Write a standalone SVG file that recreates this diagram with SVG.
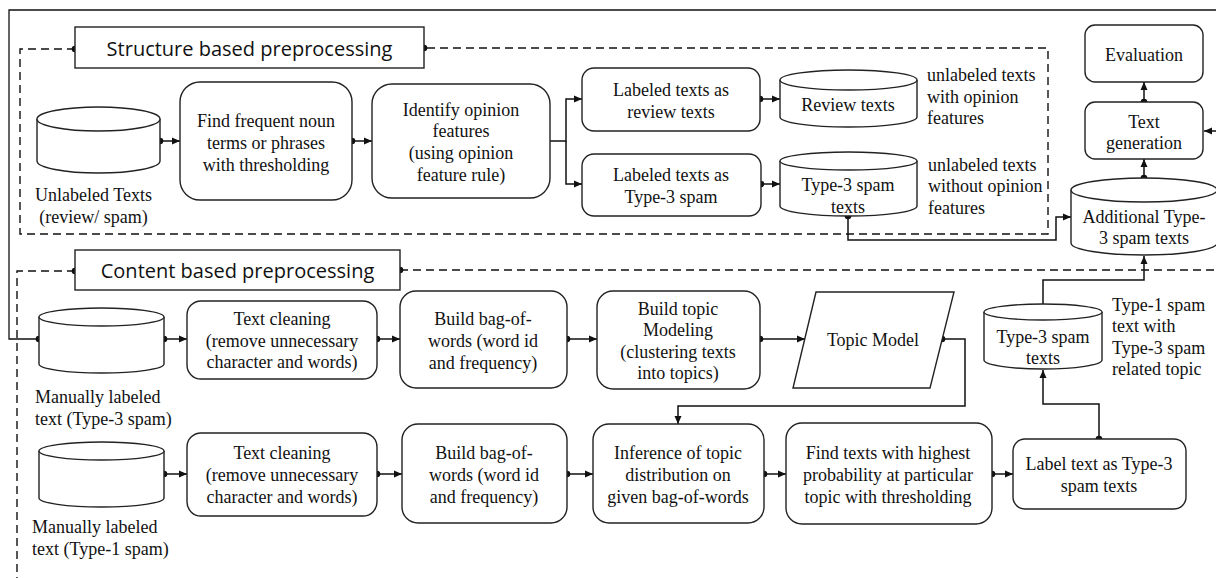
<svg xmlns="http://www.w3.org/2000/svg" width="1216" height="578" viewBox="0 0 1216 578">
<defs>
<marker id="ar" markerUnits="userSpaceOnUse" markerWidth="9" markerHeight="8" refX="8" refY="4" orient="auto"><path d="M0,0.5 L8,4 L0,7.5 z" fill="#111"/></marker>
<style>
.bx{fill:#fff;stroke:#222;stroke-width:1.4}
.t{font-family:'Liberation Serif','DejaVu Serif',serif;font-size:18px;fill:#111;text-anchor:middle}
.tl{font-family:'Liberation Serif','DejaVu Serif',serif;font-size:18px;fill:#111;text-anchor:start}
.h{font-family:'Open Sans','Noto Sans',sans-serif;font-size:20px;fill:#111;text-anchor:middle}
.c{fill:none;stroke:#111;stroke-width:1.5}
.d{fill:none;stroke:#111;stroke-width:1.4;stroke-dasharray:8 5}
.dot{fill:#111}
</style>
</defs>
<rect width="1216" height="578" fill="#fff"/>

<g id="regions">
<path class="d" d="M75,49 H20 V234 H1048 V48 H424"/>
<path class="d" d="M75,271 H17 V578"/>
<path class="d" d="M400,270 H1216"/>
</g>

<g id="connectors">
<path class="c" d="M39,339 H9 V10 H1216" style="stroke-width:1.3"/>
<path class="c" d="M1216,131 H1204" marker-end="url(#ar)"/>
<path class="c" d="M160,141 H180" marker-end="url(#ar)"/>
<path class="c" d="M352,141 H372" marker-end="url(#ar)"/>
<path class="c" d="M550,141 H566 V99 H582" marker-end="url(#ar)"/>
<path class="c" d="M566,141 V184 H582" marker-end="url(#ar)"/>
<path class="c" d="M760,99 H780" marker-end="url(#ar)"/>
<path class="c" d="M761,184 H780" marker-end="url(#ar)"/>
<path class="c" d="M848,216 V240 H1056 V217 H1071" marker-end="url(#ar)"/>
<path class="c" d="M1144,178 V159" marker-end="url(#ar)"/>
<path class="c" d="M1144,102 V82" marker-end="url(#ar)"/>
<path class="c" d="M164,339 H187" marker-end="url(#ar)"/>
<path class="c" d="M377,339 H400" marker-end="url(#ar)"/>
<path class="c" d="M567,339 H597" marker-end="url(#ar)"/>
<path class="c" d="M760,339 H805" marker-end="url(#ar)"/>
<path class="c" d="M942,339 H965 V406 H678 V424" marker-end="url(#ar)"/>
<path class="c" d="M164,474 H187" marker-end="url(#ar)"/>
<path class="c" d="M377,474 H402" marker-end="url(#ar)"/>
<path class="c" d="M567,474 H593" marker-end="url(#ar)"/>
<path class="c" d="M764,474 H786" marker-end="url(#ar)"/>
<path class="c" d="M992,474 H1013" marker-end="url(#ar)"/>
<path class="c" d="M1099,439 V404 H1043 V370" marker-end="url(#ar)"/>
<path class="c" d="M1043,304 V280 H1144 V256" marker-end="url(#ar)"/>
<g class="dot">
<circle cx="75" cy="49" r="3.3"/><circle cx="424" cy="48" r="3.3"/>
<circle cx="75" cy="271" r="3.3"/><circle cx="400" cy="270" r="3.3"/>
<circle cx="160" cy="141" r="3.3"/><circle cx="352" cy="141" r="3.3"/>
<circle cx="760" cy="99" r="3.3"/><circle cx="761" cy="184" r="3.3"/>
<circle cx="848" cy="216" r="3.3"/><circle cx="1144" cy="178" r="3.3"/><circle cx="1144" cy="102" r="3.3"/>
<circle cx="39" cy="339" r="3.3"/><circle cx="164" cy="339" r="3.3"/><circle cx="377" cy="339" r="3.3"/>
<circle cx="567" cy="339" r="3.3"/><circle cx="760" cy="339" r="3.3"/><circle cx="942" cy="339" r="3.3"/>
<circle cx="164" cy="474" r="3.3"/><circle cx="377" cy="474" r="3.3"/><circle cx="567" cy="474" r="3.3"/>
<circle cx="764" cy="474" r="3.3"/><circle cx="992" cy="474" r="3.3"/><circle cx="1099" cy="439" r="3.3"/>
</g>
</g>

<g id="structure-label">
<rect class="bx" x="75" y="27" width="349" height="41"/>
<text class="h" x="249.5" y="56">Structure based preprocessing</text>
</g>
<g id="content-label">
<rect class="bx" x="75" y="250" width="325" height="40"/>
<text class="h" x="237.5" y="278">Content based preprocessing</text>
</g>

<g id="unlabeled-texts">
<path class="bx" d="M37,119 V161 A61.5,12 0 0 0 160,161 V119"/>
<ellipse class="bx" cx="98.5" cy="119" rx="61.5" ry="12"/>
<text class="t" x="93.5" y="201">Unlabeled Texts</text>
<text class="t" x="93.5" y="223">(review/ spam)</text>
</g>
<g id="find-frequent">
<rect class="bx" x="180" y="82" width="172" height="118" rx="20"/>
<text class="t" x="266" y="127">Find frequent noun</text>
<text class="t" x="266" y="149">terms or phrases</text>
<text class="t" x="266" y="171">with thresholding</text>
</g>
<g id="identify-opinion">
<rect class="bx" x="372" y="84" width="178" height="114" rx="20"/>
<text class="t" x="461" y="116">Identify opinion</text>
<text class="t" x="461" y="137">features</text>
<text class="t" x="461" y="159">(using opinion</text>
<text class="t" x="461" y="181">feature rule)</text>
</g>
<g id="labeled-review">
<rect class="bx" x="582" y="68" width="178" height="63" rx="12"/>
<text class="t" x="671" y="96">Labeled texts as</text>
<text class="t" x="671" y="118">review texts</text>
</g>
<g id="labeled-type3">
<rect class="bx" x="582" y="154" width="179" height="62" rx="12"/>
<text class="t" x="671" y="181">Labeled texts as</text>
<text class="t" x="671" y="203">Type-3 spam</text>
</g>
<g id="review-texts">
<path class="bx" d="M780,80 V117 A68.5,10 0 0 0 917,117 V80"/>
<ellipse class="bx" cx="848.5" cy="80" rx="68.5" ry="10"/>
<text class="t" x="848" y="111">Review texts</text>
</g>
<g id="type3-texts-top">
<path class="bx" d="M780,161 V206 A68.5,10 0 0 0 917,206 V161"/>
<ellipse class="bx" cx="848.5" cy="161" rx="68.5" ry="9"/>
<text class="t" x="848" y="191">Type-3 spam</text>
<text class="t" x="848" y="213">texts</text>
</g>
<g id="note-with-opinion">
<text class="tl" x="927" y="81">unlabeled texts</text>
<text class="tl" x="927" y="103">with opinion</text>
<text class="tl" x="927" y="124">features</text>
</g>
<g id="note-without-opinion">
<text class="tl" x="928" y="171">unlabeled texts</text>
<text class="tl" x="928" y="192">without opinion</text>
<text class="tl" x="928" y="214">features</text>
</g>
<g id="evaluation">
<rect class="bx" x="1085" y="25" width="118" height="57" rx="10"/>
<text class="t" x="1144" y="61">Evaluation</text>
</g>
<g id="text-generation">
<rect class="bx" x="1085" y="102" width="118" height="57" rx="10"/>
<text class="t" x="1144" y="128">Text</text>
<text class="t" x="1144" y="149">generation</text>
</g>
<g id="additional-type3">
<path class="bx" d="M1071,190 V243 A73,12 0 0 0 1217,243 V190"/>
<ellipse class="bx" cx="1144" cy="190" rx="73" ry="12"/>
<text class="t" x="1144" y="223">Additional Type-</text>
<text class="t" x="1144" y="244">3 spam texts</text>
</g>

<g id="manual-type3">
<path class="bx" d="M39,317 V364 A62.5,9 0 0 0 164,364 V317"/>
<ellipse class="bx" cx="101.5" cy="317" rx="62.5" ry="9"/>
<text class="tl" x="35" y="403">Manually labeled</text>
<text class="tl" x="35" y="425">text (Type-3 spam)</text>
</g>
<g id="text-cleaning-1">
<rect class="bx" x="187" y="301" width="190" height="78" rx="14"/>
<text class="t" x="282" y="325">Text cleaning</text>
<text class="t" x="282" y="347">(remove unnecessary</text>
<text class="t" x="282" y="368">character and words)</text>
</g>
<g id="bag-of-words-1">
<rect class="bx" x="400" y="291" width="167" height="97" rx="16"/>
<text class="t" x="483" y="325">Build bag-of-</text>
<text class="t" x="483" y="347">words (word id</text>
<text class="t" x="483" y="369">and frequency)</text>
</g>
<g id="topic-modeling">
<rect class="bx" x="597" y="291" width="163" height="98" rx="16"/>
<text class="t" x="678" y="315">Build topic</text>
<text class="t" x="678" y="336">Modeling</text>
<text class="t" x="678" y="358">(clustering texts</text>
<text class="t" x="678" y="379">into topics)</text>
</g>
<g id="topic-model">
<path class="bx" d="M816,292 H954 L930,388 H793 Z"/>
<text class="t" x="873" y="346">Topic Model</text>
</g>
<g id="type3-texts-right">
<path class="bx" d="M984,312 V360 A59,9 0 0 0 1102,360 V312"/>
<ellipse class="bx" cx="1043" cy="312" rx="59" ry="8"/>
<text class="t" x="1043" y="343">Type-3 spam</text>
<text class="t" x="1043" y="364">texts</text>
</g>
<g id="note-type1">
<text class="tl" x="1112" y="311">Type-1 spam</text>
<text class="tl" x="1112" y="332">text with</text>
<text class="tl" x="1112" y="354">Type-3 spam</text>
<text class="tl" x="1112" y="375">related topic</text>
</g>

<g id="manual-type1">
<path class="bx" d="M39,451 V498 A62.5,9 0 0 0 164,498 V451"/>
<ellipse class="bx" cx="101.5" cy="451" rx="62.5" ry="9"/>
<text class="tl" x="32" y="533">Manually labeled</text>
<text class="tl" x="32" y="555">text (Type-1 spam)</text>
</g>
<g id="text-cleaning-2">
<rect class="bx" x="187" y="433" width="190" height="83" rx="14"/>
<text class="t" x="282" y="459">Text cleaning</text>
<text class="t" x="282" y="481">(remove unnecessary</text>
<text class="t" x="282" y="503">character and words)</text>
</g>
<g id="bag-of-words-2">
<rect class="bx" x="402" y="424" width="165" height="99" rx="16"/>
<text class="t" x="484" y="459">Build bag-of-</text>
<text class="t" x="484" y="481">words (word id</text>
<text class="t" x="484" y="503">and frequency)</text>
</g>
<g id="inference">
<rect class="bx" x="593" y="424" width="171" height="99" rx="16"/>
<text class="t" x="678" y="459">Inference of topic</text>
<text class="t" x="678" y="481">distribution on</text>
<text class="t" x="678" y="503">given bag-of-words</text>
</g>
<g id="find-texts">
<rect class="bx" x="786" y="423" width="206" height="101" rx="16"/>
<text class="t" x="888" y="459">Find texts with highest</text>
<text class="t" x="888" y="481">probability at particular</text>
<text class="t" x="888" y="503">topic with thresholding</text>
</g>
<g id="label-type3">
<rect class="bx" x="1013" y="439" width="173" height="70" rx="12"/>
<text class="t" x="1099" y="470">Label text as Type-3</text>
<text class="t" x="1099" y="492">spam texts</text>
</g>
</svg>
